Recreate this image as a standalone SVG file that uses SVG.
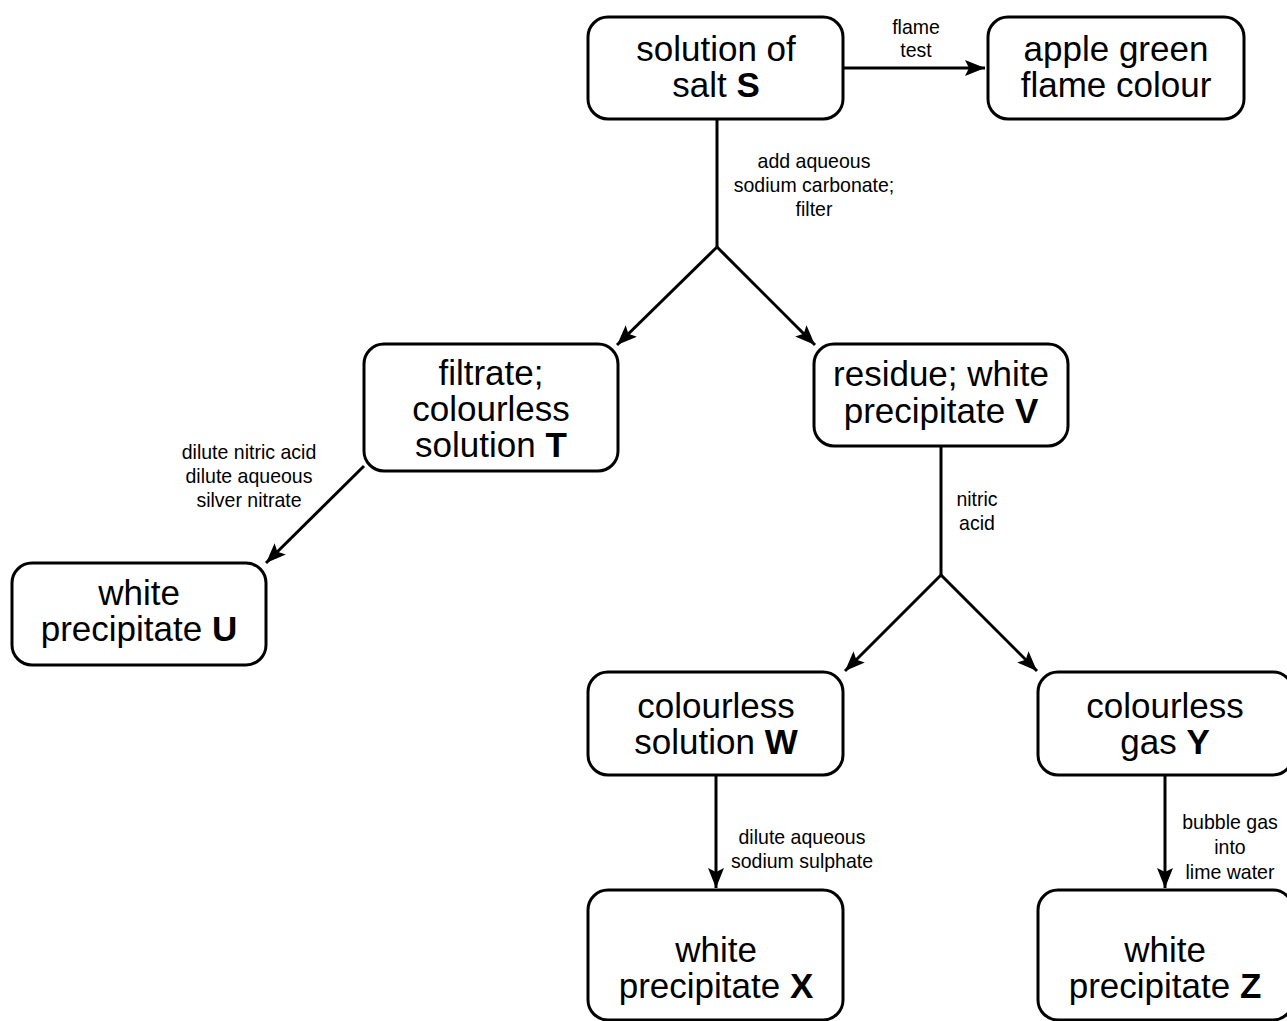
<svg xmlns="http://www.w3.org/2000/svg" width="1287" height="1021" viewBox="0 0 1287 1021">
<style>
.box{fill:#fff;stroke:#000;stroke-width:3}
.t{font-family:"Liberation Sans",Arial,sans-serif;font-size:35px;text-anchor:middle;fill:#000}
.b{font-weight:bold}
.l{font-family:"Liberation Sans",Arial,sans-serif;font-size:21px;text-anchor:middle;fill:#000}
.c{stroke:#000;stroke-width:3;fill:none}
</style>
<defs>
<marker id="ah" markerUnits="userSpaceOnUse" markerWidth="24" markerHeight="18" refX="20" refY="8" orient="auto">
<path d="M0,0 L20,8 L0,16 L4,8 z" fill="#000"/>
</marker>
</defs>
<rect width="1287" height="1021" fill="#fff"/>
<g id="connectors">
<line class="c" x1="843" y1="68" x2="985" y2="68" marker-end="url(#ah)"/>
<polyline class="c" points="717,119 717,247"/>
<line class="c" x1="717" y1="247" x2="617" y2="345" marker-end="url(#ah)"/>
<line class="c" x1="717" y1="247" x2="815" y2="345" marker-end="url(#ah)"/>
<line class="c" x1="364" y1="466" x2="266" y2="563" marker-end="url(#ah)"/>
<polyline class="c" points="941,446 941,575"/>
<line class="c" x1="941" y1="575" x2="845" y2="671" marker-end="url(#ah)"/>
<line class="c" x1="941" y1="575" x2="1037" y2="671" marker-end="url(#ah)"/>
<line class="c" x1="716" y1="775" x2="716" y2="888" marker-end="url(#ah)"/>
<line class="c" x1="1165" y1="775" x2="1165" y2="888" marker-end="url(#ah)"/>
<text class="l" transform="translate(916,34) scale(0.93,1)">flame</text>
<text class="l" transform="translate(916,57) scale(0.93,1)">test</text>
<text class="l" transform="translate(814,168) scale(0.93,1)">add aqueous</text>
<text class="l" transform="translate(814,192) scale(0.93,1)">sodium carbonate;</text>
<text class="l" transform="translate(814,216) scale(0.93,1)">filter</text>
<text class="l" transform="translate(249,459) scale(0.93,1)">dilute nitric acid</text>
<text class="l" transform="translate(249,483) scale(0.93,1)">dilute aqueous</text>
<text class="l" transform="translate(249,507) scale(0.93,1)">silver nitrate</text>
<text class="l" transform="translate(977,506) scale(0.93,1)">nitric</text>
<text class="l" transform="translate(977,530) scale(0.93,1)">acid</text>
<text class="l" transform="translate(802,844) scale(0.93,1)">dilute aqueous</text>
<text class="l" transform="translate(802,868) scale(0.93,1)">sodium sulphate</text>
<text class="l" transform="translate(1230,829) scale(0.93,1)">bubble gas</text>
<text class="l" transform="translate(1230,854) scale(0.93,1)">into</text>
<text class="l" transform="translate(1230,879) scale(0.93,1)">lime water</text>
</g>
<g id="S"><rect class="box" x="588" y="17" width="255" height="102" rx="20"/>
<text class="t" x="716" y="61">solution of</text><text class="t" x="716" y="97">salt <tspan class="b">S</tspan></text></g>
<g id="flame"><rect class="box" x="988" y="17" width="256" height="102" rx="20"/>
<text class="t" x="1116" y="61">apple green</text><text class="t" x="1116" y="97">flame colour</text></g>
<g id="T"><rect class="box" x="364" y="344" width="254" height="127" rx="20"/>
<text class="t" x="491" y="385">filtrate;</text><text class="t" x="491" y="421">colourless</text><text class="t" x="491" y="457">solution <tspan class="b">T</tspan></text></g>
<g id="V"><rect class="box" x="814" y="344" width="254" height="102" rx="20"/>
<text class="t" x="941" y="386">residue; white</text><text class="t" x="941" y="423">precipitate <tspan class="b">V</tspan></text></g>
<g id="U"><rect class="box" x="12" y="563" width="254" height="102" rx="20"/>
<text class="t" x="139" y="605">white</text><text class="t" x="139" y="641">precipitate <tspan class="b">U</tspan></text></g>
<g id="W"><rect class="box" x="588" y="672" width="255" height="103" rx="20"/>
<text class="t" x="716" y="718">colourless</text><text class="t" x="716" y="754">solution <tspan class="b">W</tspan></text></g>
<g id="Y"><rect class="box" x="1038" y="672" width="255" height="103" rx="20"/>
<text class="t" x="1165" y="718">colourless</text><text class="t" x="1165" y="754">gas <tspan class="b">Y</tspan></text></g>
<g id="X"><rect class="box" x="588" y="890" width="255" height="130" rx="20"/>
<text class="t" x="716" y="962">white</text><text class="t" x="716" y="998">precipitate <tspan class="b">X</tspan></text></g>
<g id="Z"><rect class="box" x="1038" y="890" width="255" height="130" rx="20"/>
<text class="t" x="1165" y="962">white</text><text class="t" x="1165" y="998">precipitate <tspan class="b">Z</tspan></text></g>
</svg>
